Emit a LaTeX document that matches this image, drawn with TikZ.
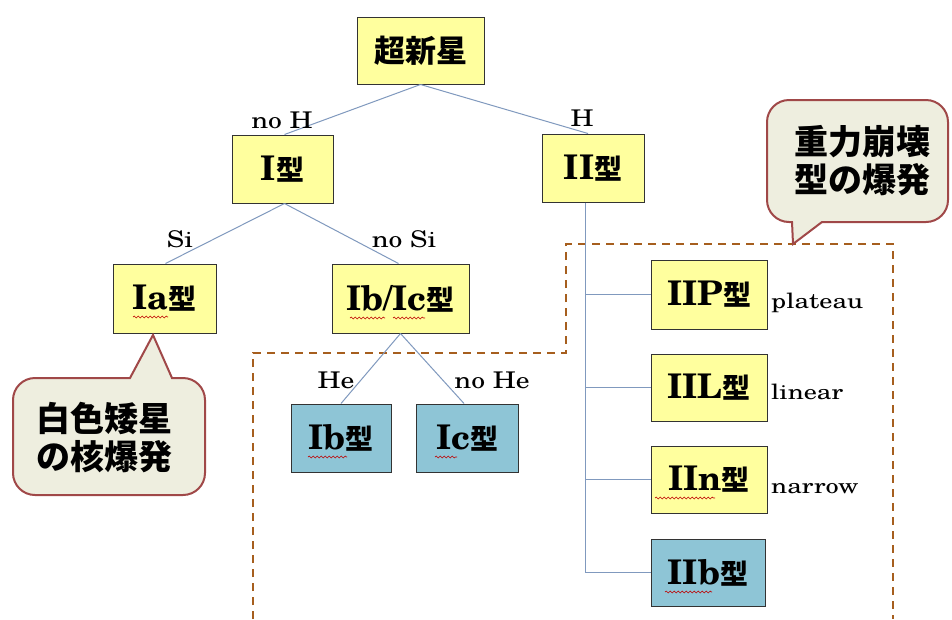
\documentclass[tikz,border=0pt]{standalone}
\usepackage{fontspec}
\usepackage{graphicx}
\setmainfont{TeX Gyre Schola}
\newfontfamily\cjk{Noto Sans CJK JP}
\usetikzlibrary{decorations.pathmorphing,calc}
\definecolor{boxyellow}{HTML}{FFFF9E}
\definecolor{boxblue}{HTML}{8EC5D6}
\definecolor{linkblue}{HTML}{8099BE}
\definecolor{dashbrown}{HTML}{A65E1E}
\definecolor{callfill}{HTML}{EEEEDF}
\definecolor{callline}{HTML}{A04848}
\newcommand\bx[2]{{\fontsize{34}{34}\selectfont\bfseries #1}{\cjk\bfseries\fontsize{28}{28}\selectfont #2}}
\newcommand\lbl[1]{\scalebox{1.2}[1]{\fontsize{23}{23}\selectfont #1}}
\newcommand\side[1]{\scalebox{1.25}[1]{\fontsize{21}{21}\selectfont #1}}
\tikzset{
  typebox/.style={draw=black!80, line width=1pt, fill=boxyellow, inner sep=0pt, anchor=center},
  bluebox/.style={typebox, fill=boxblue},
  link/.style={draw=linkblue, line width=1pt},
  regionline/.style={draw=dashbrown, line width=2pt, dash pattern=on 8pt off 6pt},
  callout/.style={draw=callline, line width=2pt, fill=callfill},
  squig/.style={draw=red!75!black, line width=0.6pt, decorate, decoration={snake, amplitude=0.9pt, segment length=4pt}},
  lab/.style={inner sep=0pt},
  calltext/.style={align=center, inner sep=0pt, font=\cjk\bfseries\fontsize{34}{38}\selectfont}
}
\begin{document}
\begin{tikzpicture}[x=1pt,y=-1pt]
\fill[white] (0,0) rectangle (952,619);
\useasboundingbox (0,0) rectangle (952,619);

% dashed region
\draw[regionline] (253,619) -- (253,353) -- (566,353) -- (566,244) -- (893,244) -- (893,619);

% boxes
\node[typebox, minimum width=127pt, minimum height=67pt] (sn) at (420.5,50.5) {{\cjk\bfseries\fontsize{31}{31}\selectfont 超新星}};
\node[typebox, minimum width=101pt, minimum height=68pt] (I) at (282.5,169) {\bx{I}{型}};
\node[typebox, minimum width=102pt, minimum height=68pt] (II) at (593,168) {\bx{II}{型}};
\node[typebox, minimum width=103pt, minimum height=69pt] (Ia) at (164.5,298.5) {\bx{Ia}{型}};
\node[typebox, minimum width=137pt, minimum height=69pt] (Ibc) at (400.5,298.5) {\bx{Ib/Ic}{型}};
\node[bluebox, minimum width=100pt, minimum height=68pt] (Ib) at (341,438) {\bx{Ib}{型}};
\node[bluebox, minimum width=102pt, minimum height=68pt] (Ic) at (467,438) {\bx{Ic}{型}};
\node[typebox, minimum width=116pt, minimum height=69pt] (IIP) at (709,294.5) {\bx{IIP}{型}};
\node[typebox, minimum width=116pt, minimum height=67pt] (IIL) at (709,387.5) {\bx{IIL}{型}};
\node[typebox, minimum width=116pt, minimum height=67pt] (IIn) at (709,479.5) {\bx{IIn}{型}};
\node[bluebox, minimum width=114pt, minimum height=67pt] (IIb) at (708,572.5) {\bx{IIb}{型}};

% connectors
\draw[link] (sn.south) -- ($(I.north)+(2,0)$);
\draw[link] (sn.south) -- ($(II.north)+(-5,0)$);
\draw[link] ($(I.south)+(2,0)$) -- ($(Ia.north)+(1,0)$);
\draw[link] ($(I.south)+(2,0)$) -- ($(Ibc.north)+(-2,0)$);
\draw[link] (Ibc.south) -- (Ib.north);
\draw[link] (Ibc.south) -- ($(Ic.north)+(-3,0)$);
\coordinate (trunk) at ($(II.south)+(-8,0)$);
\draw[link] (trunk) |- (IIb.west);
\draw[link] (trunk |- IIP.west) -- (IIP.west);
\draw[link] (trunk |- IIL.west) -- (IIL.west);
\draw[link] (trunk |- IIn.west) -- (IIn.west);

% edge labels
\node[lab] (lnoH) at (282,120) {\lbl{no H}};
\node[lab] (lH) at (582,118) {\lbl{H}};
\node[lab] (lSi) at (180,239) {\lbl{Si}};
\node[lab] (lnoSi) at (404,239) {\lbl{no Si}};
\node[lab] (lHe) at (336,380) {\lbl{He}};
\node[lab] (lnoHe) at (492,380) {\lbl{no He}};
\node[lab, anchor=base west] (lpl) at (771,308) {\side{plateau}};
\node[lab, anchor=base west] (lli) at (771,399) {\side{linear}};
\node[lab, anchor=base west] (lna) at (771,493) {\side{narrow}};

% spell-check squiggles
\draw[squig] (133,317) -- (168,317);
\draw[squig] (350,318) -- (385,318);
\draw[squig] (393,318) -- (425,318);
\draw[squig] (308,457) -- (347,457);
\draw[squig] (435,457) -- (457,457);
\draw[squig] (655,498) -- (715,498);
\draw[squig] (665,592) -- (712,592);

% callouts
\draw[callout] (130,378) -- (153,335) -- (172,378) {[rounded corners=22pt] -- (205,378) -- (205,495) -- (13,495) -- (13,378)} -- cycle;
\node[calltext] (wd) at (104,438) {白色矮星\\の核爆発};

\draw[callout] (792,222) -- (793,244) -- (822,222) {[rounded corners=22pt] -- (948,222) -- (948,100) -- (767,100) -- (767,222)} -- cycle;
\node[calltext] (cc) at (862,161) {重力崩壊\\型の爆発};
\end{tikzpicture}
\end{document}
